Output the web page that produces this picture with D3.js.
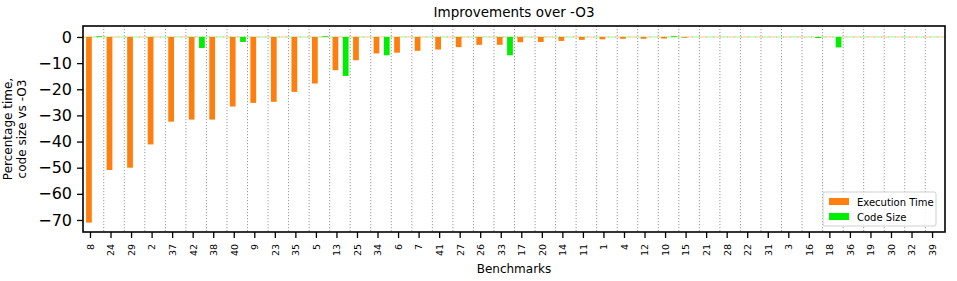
<!DOCTYPE html>
<html>
<head>
<meta charset="utf-8">
<script src="https://cdn.jsdelivr.net/npm/d3@7"></script>
<style>
  body { margin: 0; background: #fff; }
  svg { display: block; font-family: "DejaVu Sans", sans-serif; }
</style>
</head>
<body>
<div id="containerDiv"></div>
<script>
// benchmark names in plotted order
const benchmarks = ["8", "24", "29", "2", "37", "42", "38", "40", "9", "23", "35", "5", "13", "25", "34", "6", "7", "41", "27", "26", "33", "17", "20", "14", "11", "1", "4", "12", "10", "15", "21", "28", "22", "31", "3", "16", "18", "36", "19", "30", "32", "39"];
// percentage change of execution time vs -O3
const executionTime = [-71.0, -50.9, -50.0, -41.1, -32.4, -31.6, -31.6, -26.6, -25.2, -24.8, -21.0, -17.8, -12.7, -8.9, -6.3, -6.0, -5.3, -4.8, -3.9, -3.0, -3.0, -2.0, -1.9, -1.5, -1.1, -0.9, -0.7, -0.7, -0.6, -0.3, 0, 0, 0, 0, 0, 0, 0, 0, 0, 0, 0, 0];
// percentage change of code size vs -O3
const codeSize = [0.3, 0, 0, 0, 0, -4.2, 0, -1.9, 0, 0, 0, 0.3, -14.9, 0, -7.0, 0, 0, 0, 0, 0, -7.0, 0, 0, 0, 0, 0, 0, 0, 0.3, 0, 0, 0, 0, 0, 0, -0.4, -4.0, 0, 0, 0, 0, 0];
const yTicks = [0, -10, -20, -30, -40, -50, -60, -70];
const seriesNames = ["Execution Time", "Code Size"];
const seriesColors = ["#ff7f0e", "#00ee00"];

// margins and size of plot area
const margin = { top: 26, right: 12, bottom: 49, left: 83 },
  W = 957,
  H = 281,
  w = W - margin.left - margin.right,
  h = H - margin.top - margin.bottom;

let svg = d3
  .select("#containerDiv")
  .append("svg")
  .attr("width", W)
  .attr("height", H);

let g = svg
  .append("g")
  .attr("transform", "translate(" + margin.left + "," + margin.top + ")");

// x scale over benchmark index (ticks are not centred in their slot)
let xScale = d3.scaleLinear().domain([-0.34, 41.63]).range([0, w]);
let yScale = d3.scaleLinear().domain([-74.6, 4.2]).range([h, 0]);
let step = xScale(1) - xScale(0);

// dotted vertical separators
g.selectAll(".sep")
  .data(d3.range(1, benchmarks.length))
  .enter()
  .append("line")
  .attr("class", "sep")
  .attr("x1", (d) => xScale(d - 0.33))
  .attr("x2", (d) => xScale(d - 0.33))
  .attr("y1", 0)
  .attr("y2", h)
  .attr("stroke", "#9a9a9a")
  .attr("stroke-width", 1)
  .attr("stroke-dasharray", "1.2,1.8");

// light dashed zero lines, one per series
g.append("line")
  .attr("x1", 0)
  .attr("x2", w)
  .attr("y1", yScale(0))
  .attr("y2", yScale(0))
  .attr("stroke", seriesColors[0])
  .attr("stroke-opacity", 0.45)
  .attr("stroke-dasharray", "8,6");
g.append("line")
  .attr("x1", 0)
  .attr("x2", w)
  .attr("y1", yScale(0))
  .attr("y2", yScale(0))
  .attr("stroke", seriesColors[1])
  .attr("stroke-opacity", 0.4)
  .attr("stroke-dasharray", "8,6")
  .attr("stroke-dashoffset", 7);

// draw bars for one series
function drawBars(values, color, offset) {
  g.selectAll(null)
    .data(values)
    .enter()
    .append("rect")
    .attr("x", (d, i) => xScale(i + offset) - step * 0.14)
    .attr("width", step * 0.28)
    .attr("y", (d) => yScale(Math.max(0, d)))
    .attr("height", (d) => Math.abs(yScale(d) - yScale(0)))
    .attr("fill", color);
}
drawBars(executionTime, seriesColors[0], -0.05);
drawBars(codeSize, seriesColors[1], 0.45);

// y axis
let gY = g
  .append("g")
  .attr("class", "axis y-axis")
  .call(d3.axisLeft(yScale).tickValues(yTicks).tickSize(6).tickPadding(5));
gY.selectAll(".tick text")
  .attr("font-size", 16)
  .attr("font-family", "DejaVu Sans")
  .attr("fill", "#000");

// x axis
let gX = g
  .append("g")
  .attr("class", "axis x-axis")
  .attr("transform", "translate(0," + h + ")")
  .call(
    d3
      .axisBottom(xScale)
      .tickValues(d3.range(benchmarks.length))
      .tickFormat((i) => benchmarks[i])
      .tickSize(6)
  );
gX.selectAll(".tick text")
  .attr("font-size", 9.5)
  .attr("font-family", "DejaVu Sans")
  .attr("fill", "#000")
  .attr("text-anchor", "end")
  .attr("transform", "rotate(-90)")
  .attr("x", -12)
  .attr("y", 0)
  .attr("dy", "0.35em");

[gX, gY].forEach((a) => {
  a.selectAll(".tick line").attr("stroke", "#000").attr("stroke-width", 1.3);
  a.select(".domain").remove();
});

// frame around plot
g.append("rect")
  .attr("width", w)
  .attr("height", h)
  .attr("fill", "none")
  .attr("stroke", "#000")
  .attr("stroke-width", 1.6);

// title and axis labels
svg
  .append("text")
  .attr("x", margin.left + w / 2)
  .attr("y", 17)
  .attr("text-anchor", "middle")
  .attr("font-size", 13.5)
  .text("Improvements over -O3");
svg
  .append("text")
  .attr("x", margin.left + w / 2)
  .attr("y", 273)
  .attr("text-anchor", "middle")
  .attr("font-size", 12)
  .text("Benchmarks");
let yLabel = svg
  .append("text")
  .attr("transform", "translate(12," + (margin.top + h / 2) + ") rotate(-90)")
  .attr("text-anchor", "middle")
  .attr("font-size", 12);
yLabel.append("tspan").attr("x", 0).attr("dy", 0).text("Percentage time,");
yLabel.append("tspan").attr("x", 0).attr("dy", 14).text("code size vs -O3");

// legend in lower right corner
let legend = svg.append("g").attr("transform", "translate(823,192)");
legend
  .append("rect")
  .attr("width", 113)
  .attr("height", 34)
  .attr("rx", 2)
  .attr("fill", "#fff")
  .attr("fill-opacity", 0.85)
  .attr("stroke", "#cfcfcf");
seriesNames.forEach((name, i) => {
  legend
    .append("rect")
    .attr("x", 6)
    .attr("y", 6 + i * 15)
    .attr("width", 20)
    .attr("height", 7)
    .attr("fill", seriesColors[i]);
  legend
    .append("text")
    .attr("x", 34)
    .attr("y", 13.5 + i * 15)
    .attr("font-size", 10)
    .text(name);
});
</script>
</body>
</html>
